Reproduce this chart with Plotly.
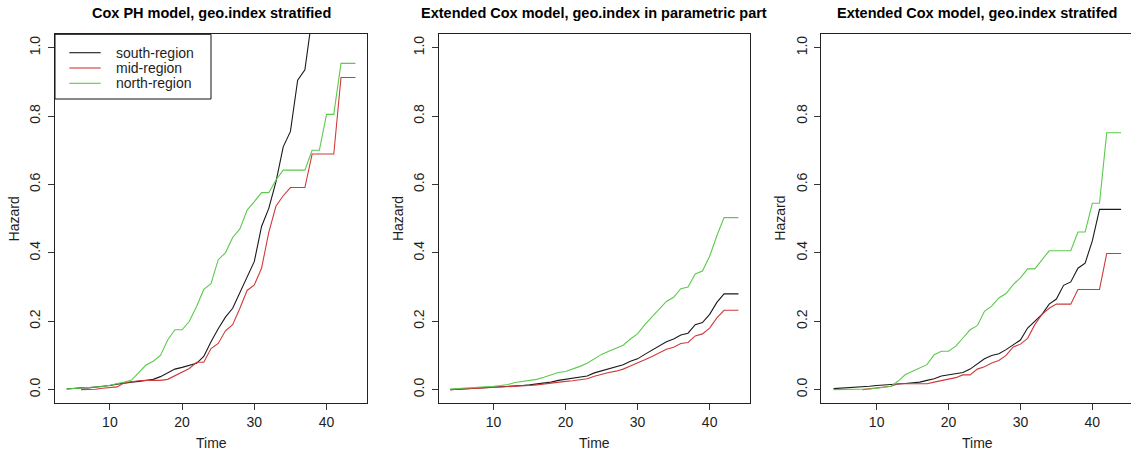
import plotly.graph_objects as go

# Follow-up time (years) at which the cumulative hazards are evaluated
time = list(range(4, 45))

regions = ["south-region", "mid-region", "north-region"]
colors = ["#1a1a1a", "#D03A3A", "#5DC94E"]

# Panel 1: Cox PH model, geo.index stratified
coxph_south = [0.002, 0.004, 0.005, 0.005, 0.007, 0.009, 0.012, 0.016, 0.020, 0.022,
               0.024, 0.026, 0.030, 0.038, 0.048, 0.060, 0.065, 0.072, 0.077, 0.097,
               0.140, 0.178, 0.212, 0.238, 0.285, 0.330, 0.375, 0.477, 0.530, 0.608,
               0.710, 0.755, 0.905, 0.935, 1.090, 1.150, 1.250, 1.300, 1.450, 1.450, 1.450]
coxph_mid = [None, None, 0.000, 0.000, 0.001, 0.004, 0.006, 0.008, 0.020, 0.024,
             0.026, 0.027, 0.027, 0.027, 0.030, 0.040, 0.050, 0.062, 0.080, 0.080,
             0.120, 0.135, 0.172, 0.190, 0.238, 0.290, 0.306, 0.355, 0.460, 0.537,
             0.567, 0.591, 0.591, 0.591, 0.689, 0.689, 0.689, 0.689, 0.913, 0.913, 0.913]
coxph_north = [0.002, 0.003, 0.004, 0.005, 0.007, 0.009, 0.013, 0.017, 0.022, 0.028,
               0.050, 0.072, 0.083, 0.100, 0.145, 0.175, 0.175, 0.200, 0.243, 0.293,
               0.310, 0.380, 0.400, 0.445, 0.470, 0.525, 0.550, 0.576, 0.576, 0.613,
               0.642, 0.642, 0.642, 0.642, 0.700, 0.700, 0.805, 0.805, 0.954, 0.954, 0.954]

# Panel 2: extended Cox model, geo.index in the parametric part
ext_par_south = [0.000, 0.001, 0.002, 0.003, 0.004, 0.005, 0.006, 0.007, 0.009, 0.010,
                 0.012, 0.014, 0.016, 0.019, 0.022, 0.027, 0.030, 0.032, 0.035, 0.040,
                 0.049, 0.055, 0.061, 0.065, 0.073, 0.083, 0.090, 0.103, 0.115, 0.128,
                 0.140, 0.148, 0.160, 0.165, 0.190, 0.196, 0.220, 0.255, 0.280, 0.280, 0.280]
ext_par_mid = [0.000, 0.001, 0.002, 0.002, 0.003, 0.004, 0.005, 0.006, 0.008, 0.009,
               0.011, 0.012, 0.014, 0.017, 0.019, 0.022, 0.024, 0.026, 0.028, 0.032,
               0.039, 0.045, 0.050, 0.054, 0.060, 0.069, 0.077, 0.087, 0.097, 0.108,
               0.118, 0.124, 0.135, 0.138, 0.157, 0.163, 0.180, 0.210, 0.232, 0.232, 0.232]
ext_par_north = [0.002, 0.003, 0.004, 0.005, 0.006, 0.008, 0.010, 0.012, 0.015, 0.021,
                 0.024, 0.027, 0.030, 0.036, 0.042, 0.050, 0.053, 0.060, 0.068, 0.077,
                 0.090, 0.103, 0.112, 0.120, 0.130, 0.148, 0.163, 0.190, 0.213, 0.235,
                 0.258, 0.270, 0.295, 0.300, 0.338, 0.347, 0.390, 0.450, 0.503, 0.503, 0.503]

# Panel 3: extended Cox model, geo.index stratified
ext_str_south = [0.003, 0.004, 0.005, 0.006, 0.008, 0.010, 0.012, 0.013, 0.014, 0.016,
                 0.018, 0.020, 0.022, 0.027, 0.032, 0.040, 0.043, 0.046, 0.050, 0.060,
                 0.075, 0.090, 0.100, 0.105, 0.117, 0.130, 0.145, 0.180, 0.200, 0.220,
                 0.250, 0.265, 0.305, 0.315, 0.355, 0.370, 0.435, 0.527, 0.527, 0.527, 0.527]
ext_str_mid = [None, None, None, None, 0.000, 0.002, 0.004, 0.006, 0.010, 0.017,
               0.017, 0.017, 0.017, 0.017, 0.022, 0.027, 0.030, 0.035, 0.043, 0.043,
               0.060, 0.067, 0.078, 0.085, 0.100, 0.125, 0.133, 0.150, 0.190, 0.220,
               0.238, 0.250, 0.250, 0.250, 0.293, 0.293, 0.293, 0.293, 0.398, 0.398, 0.398]
ext_str_north = [0.000, 0.000, 0.000, 0.000, 0.000, 0.002, 0.004, 0.006, 0.010, 0.025,
                 0.044, 0.054, 0.063, 0.073, 0.102, 0.112, 0.112, 0.127, 0.151, 0.175,
                 0.187, 0.229, 0.244, 0.268, 0.281, 0.307, 0.327, 0.353, 0.353, 0.380,
                 0.406, 0.406, 0.406, 0.406, 0.461, 0.461, 0.545, 0.545, 0.751, 0.751, 0.751]

titles = ["Cox PH model, geo.index stratified",
          "Extended Cox model, geo.index in parametric part",
          "Extended Cox model, geo.index stratifed"]
panels = [
    [coxph_south, coxph_mid, coxph_north],
    [ext_par_south, ext_par_mid, ext_par_north],
    [ext_str_south, ext_str_mid, ext_str_north],
]

W, H = 1131, 454
# panel boxes in pixels: (left, right)
boxes_px = [(55.0, 367.0), (438.7, 750.0), (821.3, 1131.0)]
x_ranges = [[2.4, 45.6], [2.4, 45.6], [2.3, 45.38]]
title_centers_px = [211.0, 594.3, 977.0]
y_top, y_bot = 1 - 34.0 / H, 1 - 403.3 / H

FONT = "Liberation Sans, Arial, sans-serif"
TXT = "#1e1e1e"

fig = go.Figure()
for p, series in enumerate(panels):
    suffix = "" if p == 0 else str(p + 1)
    for name, col, vals in zip(regions, colors, series):
        fig.add_trace(go.Scatter(
            x=time, y=vals, mode="lines", name=name,
            line=dict(color=col, width=1.1),
            xaxis="x" + suffix, yaxis="y" + suffix,
            showlegend=False, connectgaps=False, hoverinfo="skip",
        ))

layout = dict(
    width=W, height=H,
    margin=dict(l=0, r=0, t=0, b=0),
    paper_bgcolor="white", plot_bgcolor="white",
    font=dict(family=FONT, size=14, color=TXT),
    annotations=[], shapes=[], showlegend=False,
)

for p in range(3):
    suffix = "" if p == 0 else str(p + 1)
    l, r = boxes_px[p]
    layout["xaxis" + suffix] = dict(
        domain=[l / W, r / W], range=x_ranges[p], anchor="y" + suffix,
        tickvals=[10, 20, 30, 40], ticks="outside", ticklen=6, tickcolor="#333",
        showline=True, linecolor="#222", linewidth=1, mirror=True,
        showgrid=False, zeroline=False, tickfont=dict(size=14, color=TXT),
    )
    layout["yaxis" + suffix] = dict(
        domain=[y_bot, y_top], range=[-0.04, 1.04], anchor="x" + suffix,
        tickvals=[0, 0.2, 0.4, 0.6, 0.8, 1.0], tickformat=".1f", tickangle=-90,
        ticks="outside", ticklen=6, tickcolor="#333",
        showline=True, linecolor="#222", linewidth=1, mirror=(p < 2),
        showgrid=False, zeroline=False, tickfont=dict(size=14, color=TXT),
        ticklabelstandoff=2,
    )
    layout["annotations"].append(dict(
        text="<b>" + titles[p] + "</b>", x=title_centers_px[p] / W, y=1 - 12.5 / H,
        xref="paper", yref="paper", xanchor="center", yanchor="middle",
        showarrow=False, font=dict(size=14.5, color="#000"),
    ))
    layout["annotations"].append(dict(
        text="Time", x=title_centers_px[p] / W, y=1 - 443.0 / H,
        xref="paper", yref="paper", xanchor="center", yanchor="middle",
        showarrow=False, font=dict(size=14, color=TXT),
    ))
    layout["annotations"].append(dict(
        text="Hazard", x=(l - 41.3) / W, y=1 - 218.7 / H, textangle=-90,
        xref="paper", yref="paper", xanchor="center", yanchor="middle",
        showarrow=False, font=dict(size=14, color=TXT),
    ))

# Legend box in the top-left corner of the first panel
leg_left, leg_right, leg_top, leg_bottom = 55.0, 211.0, 34.3, 99.0
layout["shapes"].append(dict(
    type="rect", xref="paper", yref="paper",
    x0=leg_left / W, x1=leg_right / W, y0=1 - leg_bottom / H, y1=1 - leg_top / H,
    line=dict(color="#111", width=1), fillcolor="rgba(0,0,0,0)", layer="above",
))
for i, (name, col) in enumerate(zip(regions, colors)):
    row_y = 1 - (52.7 + 15.3 * i) / H
    layout["shapes"].append(dict(
        type="line", xref="paper", yref="paper",
        x0=69.3 / W, x1=100.7 / W, y0=row_y, y1=row_y,
        line=dict(color=col, width=1.1), layer="above",
    ))
    layout["annotations"].append(dict(
        text=name, x=114.0 / W, y=row_y, xref="paper", yref="paper",
        xanchor="left", yanchor="middle", showarrow=False,
        font=dict(size=14, color=TXT),
    ))

fig.update_layout(**layout)
fig.write_html("out.html")
